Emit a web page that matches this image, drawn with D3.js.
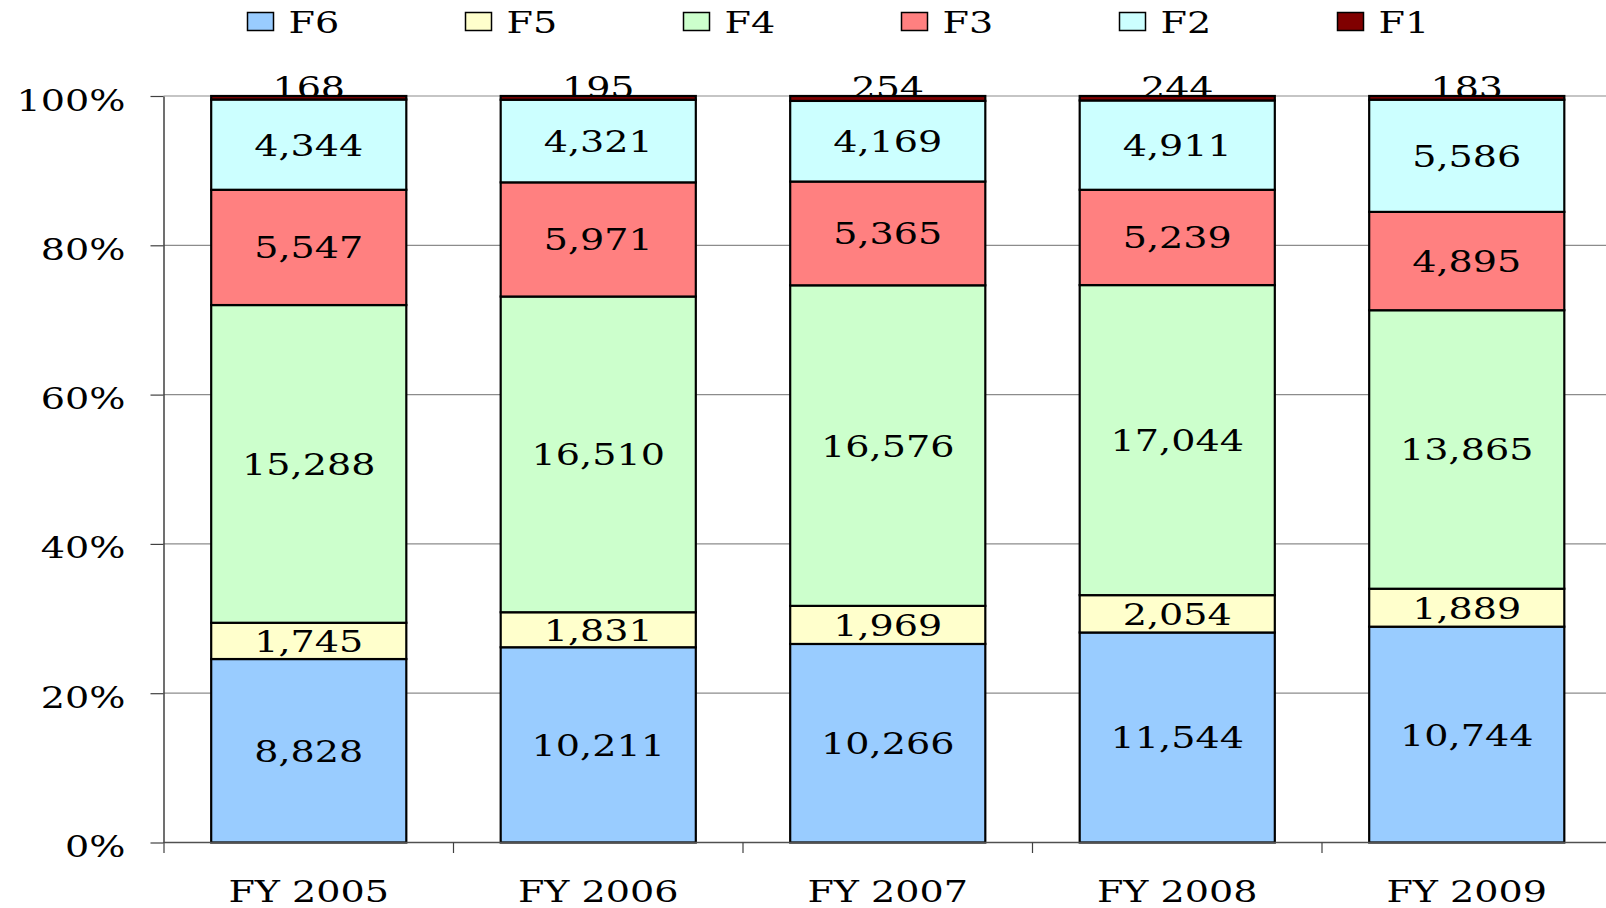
<!DOCTYPE html>
<html>
<head>
<meta charset="utf-8">
<script src="https://cdn.jsdelivr.net/npm/d3@7/dist/d3.min.js"></script>
<style>
  html, body { margin: 0; padding: 0; background: #fff; }
  svg text { font-family: "DejaVu Serif", serif; font-size: 30px; fill: #000; }
</style>
</head>
<body>
<div id="chart"></div>
<script>
// data
const years = ['FY 2005', 'FY 2006', 'FY 2007', 'FY 2008', 'FY 2009'];
const seriesNames = ['F6', 'F5', 'F4', 'F3', 'F2', 'F1'];
const f6 = [8828, 10211, 10266, 11544, 10744];
const f5 = [1745, 1831, 1969, 2054, 1889];
const f4 = [15288, 16510, 16576, 17044, 13865];
const f3 = [5547, 5971, 5365, 5239, 4895];
const f2 = [4344, 4321, 4169, 4911, 5586];
const f1 = [168, 195, 254, 244, 183];
const yTicks = [0, 0.2, 0.4, 0.6, 0.8, 1];
const colors = ['#99ccff', '#ffffcc', '#ccffcc', '#ff8080', '#ccffff', '#800000'];

const width = 1606, height = 908;
const sx = 1.27; // the original text is wider than the font
const fmt = d3.format(',');

const svg = d3.select('#chart').append('svg')
  .attr('width', width).attr('height', height);

const rows = years.map((y, i) => ({ year: y, F6: f6[i], F5: f5[i], F4: f4[i], F3: f3[i], F2: f2[i], F1: f1[i] }));
const stacked = d3.stack().keys(seriesNames).offset(d3.stackOffsetExpand)(rows);

const x = d3.scaleBand().domain(years).range([164, 1611.5]).paddingInner(0.326).paddingOuter(0.163);
const y = d3.scaleLinear().domain([0, 1]).range([842.5, 96]);

function stretchedText(g, tx, ty, str, anchor) {
  return g.append('text')
    .attr('transform', `translate(${tx},${ty}) scale(${sx},1)`)
    .attr('text-anchor', anchor || 'middle')
    .text(str);
}

// gridlines
svg.append('g').selectAll('line').data(yTicks.slice(1)).enter().append('line')
  .attr('x1', 163.5).attr('x2', width)
  .attr('y1', d => y(d)).attr('y2', d => y(d))
  .attr('stroke', '#8c8c8c').attr('stroke-width', 1.2);

// y axis
const yAxis = svg.append('g').attr('transform', 'translate(163.5,0)')
  .call(d3.axisLeft(y).tickValues(yTicks).tickFormat(d3.format('.0%')).tickSize(13).tickSizeOuter(0));
yAxis.select('.domain').attr('stroke', '#404040').attr('stroke-width', 1.5);
yAxis.selectAll('.tick line').attr('stroke', '#404040').attr('stroke-width', 1.2);
yAxis.selectAll('.tick text')
  .attr('x', null).attr('dy', null).attr('y', null)
  .attr('font-size', null).attr('font-family', null)
  .attr('transform', `translate(-38,14) scale(${sx},1)`)
  .attr('text-anchor', 'end');
yAxis.attr('font-size', null).attr('font-family', null);

// F1 labels sit on top of the bars, drawn first so the bar edge covers their foot
const labels = svg.append('g');
stacked[5].forEach((d, i) => {
  stretchedText(labels, x(years[i]) + x.bandwidth() / 2, y(1) + 2, fmt(f1[i]));
});

// bars
const bars = svg.append('g');
stacked.forEach((s, si) => {
  bars.selectAll(null).data(s).enter().append('rect')
    .attr('x', (d, i) => x(years[i]))
    .attr('width', x.bandwidth())
    .attr('y', d => y(d[1]))
    .attr('height', d => y(d[0]) - y(d[1]))
    .attr('fill', colors[si])
    .attr('stroke', '#000').attr('stroke-width', 2.2);
});

// x axis
svg.append('line').attr('x1', 163.5).attr('x2', width).attr('y1', y(0)).attr('y2', y(0))
  .attr('stroke', '#505050').attr('stroke-width', 1.5);
svg.append('g').selectAll('line').data(d3.range(years.length + 1)).enter().append('line')
  .attr('x1', i => x.range()[0] + i * x.step()).attr('x2', i => x.range()[0] + i * x.step())
  .attr('y1', y(0)).attr('y2', y(0) + 10.5)
  .attr('stroke', '#404040').attr('stroke-width', 1.2);
years.forEach(yr => stretchedText(svg, x(yr) + x.bandwidth() / 2, 902, yr));

// segment labels
stacked.slice(0, 5).forEach((s, si) => {
  const vals = [f6, f5, f4, f3, f2][si];
  s.forEach((d, i) => {
    const cy = (y(d[0]) + y(d[1])) / 2;
    stretchedText(svg, x(years[i]) + x.bandwidth() / 2, cy + 11, fmt(vals[i]));
  });
});

// legend
const legend = svg.append('g');
seriesNames.forEach((name, i) => {
  const lx = 247.5 + i * 218;
  legend.append('rect').attr('x', lx).attr('y', 12.5).attr('width', 26).attr('height', 18)
    .attr('fill', colors[i]).attr('stroke', '#000').attr('stroke-width', 1.5);
  stretchedText(legend, lx + 41, 33, name, 'start');
});
</script>
</body>
</html>
